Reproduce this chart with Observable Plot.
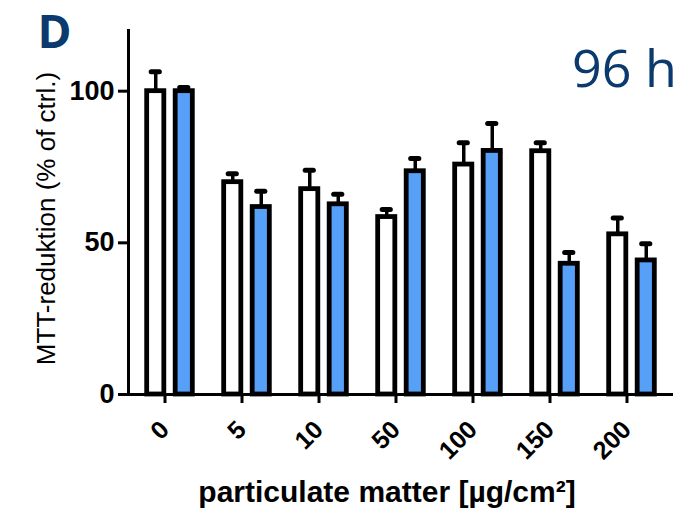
<!DOCTYPE html>
<html><head><meta charset="utf-8">
<script src="https://cdn.jsdelivr.net/npm/d3@7"></script>
<script src="https://cdn.jsdelivr.net/npm/@observablehq/plot@0.6"></script>
<style>
body{margin:0;background:#fff}
#chart svg{display:block;overflow:visible}
</style></head><body><div id="chart"></div>
<script>
const categories = ["0","5","10","50","100","150","200"];
const whiteMean = [100, 70, 67.7, 58.5, 75.8, 80.2, 52.8];
const whiteErr  = [6.4, 2.8, 6.2, 2.5, 7.2, 2.8, 5.4];
const blueMean  = [100, 61.8, 62.7, 73.6, 80.3, 43.1, 44.2];
const blueErr   = [1.2, 5.2, 3.3, 4.2, 9.0, 3.7, 5.5];
const yTicks = [0, 50, 100];
const yLabel = "MTT-reduktion (% of ctrl.)";
const xLabel = "particulate matter [µg/cm²]";
const panelLetter = "D";
const timeLabel = "96 h";

const whiteRows = categories.map((c, i) => ({cat: c, value: whiteMean[i], top: whiteMean[i] + whiteErr[i]}));
const blueRows = categories.map((c, i) => ({cat: c, value: blueMean[i], top: blueMean[i] + blueErr[i]}));

const W = 682, H = 514, mL = 128, mR = 9, mT = 30, mB = 120;
const bw = (W - mL - mR) / categories.length;
const barW = 18, capW = 9, off = 14.25;
const barInset = (bw - barW) / 2, capInset = (bw - capW) / 2;
const darkBlue = "#0b3a6e", fillBlue = "#57a0f8";

function group(rows, dx, fill) {
  return [
    Plot.ruleX(rows, {x: "cat", y1: "value", y2: "top", dx, stroke: "black", strokeWidth: 3.5}),
    Plot.barY(rows, {x: "cat", y: "value", dx, fill, stroke: "black", strokeWidth: 4.8, insetLeft: barInset, insetRight: barInset}),
    Plot.tickY(rows, {x: "cat", y: "top", dx, stroke: "black", strokeWidth: 5, strokeLinecap: "round", insetLeft: capInset, insetRight: capInset})
  ];
}

const chart = Plot.plot({
  width: W, height: H,
  marginLeft: mL, marginRight: mR, marginTop: mT, marginBottom: mB,
  style: {fontFamily: "Liberation Sans, Arial, sans-serif", background: "white", color: "black"},
  x: {type: "band", domain: categories, padding: 0},
  y: {domain: [0, 120]},
  marks: [
    ...group(whiteRows, -off, "white"),
    ...group(blueRows, off, fillBlue),
    Plot.ruleY([0], {stroke: "black", strokeWidth: 3, insetLeft: -4}),
    Plot.frame({anchor: "left", stroke: "black", strokeWidth: 3}),
    Plot.axisY(yTicks, {tickSize: 10, tickPadding: 4, strokeWidth: 3, fontSize: 27, fontWeight: "bold", label: null}),
    Plot.axisX({tickSize: 9, tickPadding: 22, strokeWidth: 3, tickRotate: -45, fontSize: 25, fontWeight: "bold", label: null, dx: -5}),
    Plot.text([yLabel], {frameAnchor: "left", textAnchor: "middle", lineAnchor: "middle", rotate: -90, dx: -82, dy: 6, fontSize: 26, text: d => d}),
    Plot.text([xLabel], {frameAnchor: "bottom", textAnchor: "middle", dx: -14, dy: 107, fontSize: 30, fontWeight: "bold", text: d => d}),
    Plot.text([panelLetter], {frameAnchor: "top-left", textAnchor: "middle", lineAnchor: "middle", dx: -74, dy: 3, fontSize: 46, fontWeight: "bold", fontFamily: "Open Sans", fill: darkBlue, text: d => d}),
    Plot.text([timeLabel], {frameAnchor: "top-right", textAnchor: "middle", lineAnchor: "middle", dx: -49, dy: 40, fontSize: 52, fontFamily: "Open Sans", fill: darkBlue, text: d => d})
  ]
});
document.getElementById("chart").append(chart);
</script></body></html>
